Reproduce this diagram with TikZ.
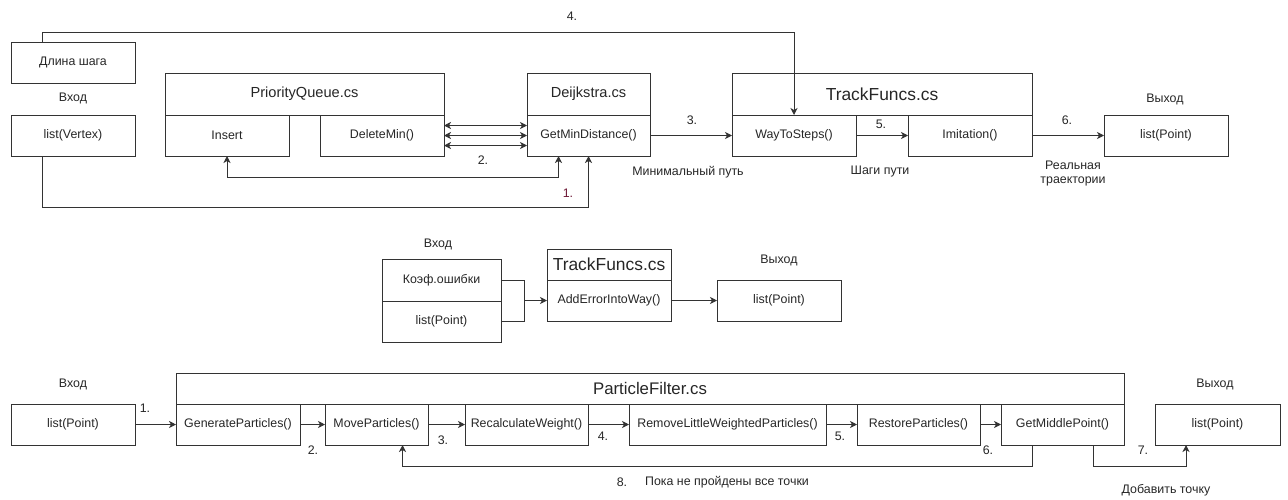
\documentclass[tikz,border=0pt]{standalone}
\usepackage{fontspec}
\setmainfont{Liberation Sans}
\usetikzlibrary{positioning,arrows.meta}

\begin{document}
\begin{tikzpicture}[
    x=1pt, y=-1pt,
    >={Stealth[length=7pt,width=7pt,inset=2pt]},
    cell/.style={draw=black!80, line width=1pt, rectangle, anchor=north west, inner sep=0pt, outer sep=0pt, minimum height=41pt, font=\fontsize{12.4}{14}\selectfont, text=black!85},
    head/.style={cell, minimum height=42pt},
    lbl/.style={font=\fontsize{12.4}{14}\selectfont, text=black!85, inner sep=0pt, align=center},
    link/.style={draw=black!80, line width=1pt}
]
  \useasboundingbox (0,0) rectangle (1288,499);

  % Route building
  \node (steplen) [cell, minimum width=124pt] at (11,42) {Длина шага};
  \node (inA) [lbl] at (73,98) {Вход};
  \node (vertex) [cell, minimum width=124pt] at (11,115) {list(Vertex)};

  \node (pq) [head, minimum width=279pt, font=\fontsize{14.6}{16}\selectfont] at (165,73) {PriorityQueue.cs};
  \node (insert) [cell, minimum width=124pt, below right=0pt of pq.south west] {Insert};
  \node (delmin) [cell, minimum width=124pt, below left=0pt of pq.south east] {DeleteMin()};

  \node (dj) [head, minimum width=123pt, font=\fontsize{14.6}{16}\selectfont] at (527,73) {Deijkstra.cs};
  \node (getmin) [cell, minimum width=123pt, below right=0pt of dj.south west] {GetMinDistance()};

  \node (tf) [head, minimum width=300pt, font=\fontsize{17.4}{20}\selectfont] at (732,73) {TrackFuncs.cs};
  \node (waysteps) [cell, minimum width=124pt, below right=0pt of tf.south west] {WayToSteps()};
  \node (imitation) [cell, minimum width=124pt, below left=0pt of tf.south east] {Imitation()};

  \node (outA) [cell, minimum width=124pt] at (1104,115) {list(Point)};
  \node (outAlbl) [lbl] at (1165,99) {Выход};

  \draw[link, ->] ([xshift=31pt]steplen.north west) -- ++(0,-10) -| (waysteps.north);
  \draw[link, ->] ([xshift=31pt]vertex.south west) -- ++(0,51) -| (getmin.south);
  \draw[link, <->] (insert.south) -- ++(0,21) -| ([xshift=-30pt]getmin.south);
  \foreach \dy in {-10,0,10}
    \draw[link, <->] ([yshift=\dy pt]delmin.east) -- ([yshift=\dy pt]getmin.west);
  \draw[link, ->] (getmin) -- (waysteps);
  \draw[link, ->] (waysteps) -- (imitation);
  \draw[link, ->] (imitation) -- (outA);

  \node (n4) [lbl] at (572,16) {4.};
  \node (n1) [lbl, text={rgb,255:red,110;green,25;blue,55}] at (568,193) {1.};
  \node (n2) [lbl] at (483,160) {2.};
  \node (n3) [lbl] at (692,120) {3.};
  \node (n5) [lbl] at (881,124) {5.};
  \node (n6) [lbl] at (1067,120) {6.};
  \node (minpath) [lbl] at (688,172) {Минимальный путь};
  \node (steps) [lbl] at (880,172) {Шаги пути};
  \node (real) [lbl] at (1073,174) {Реальная\\траектории};

  % Error injection
  \node (inB) [lbl] at (438,244) {Вход};
  \node (koef) [head, minimum width=119pt] at (382,259) {Коэф.ошибки};
  \node (pts) [cell, minimum width=119pt, below right=0pt of koef.south west] {list(Point)};
  \node (tfB) [cell, minimum width=124pt, minimum height=31pt, font=\fontsize{17.4}{20}\selectfont] at (547,249) {TrackFuncs.cs};
  \node (adderr) [cell, minimum width=124pt, below right=0pt of tfB.south west] {AddErrorIntoWay()};
  \node (outB) [cell, minimum width=124pt] at (717,280) {list(Point)};
  \node (outBlbl) [lbl] at (779,260) {Выход};

  \coordinate (merge) at ([xshift=-23pt]adderr.west);
  \draw[link] (koef.east) -| (merge);
  \draw[link] (pts.east) -| (merge);
  \draw[link, ->] (merge) -- (adderr.west);
  \draw[link, ->] (adderr) -- (outB);

  % Particle filter
  \node (inC) [lbl] at (73,384) {Вход};
  \node (ptsC) [cell, minimum width=124pt] at (11,404) {list(Point)};
  \node (pf) [cell, minimum width=948pt, minimum height=31pt, font=\fontsize{16.8}{19}\selectfont] at (176,373) {ParticleFilter.cs};
  \node (gen) [cell, minimum width=124pt, below right=0pt of pf.south west] {GenerateParticles()};
  \node (move) [cell, minimum width=103pt] at (325,404) {MoveParticles()};
  \node (recalc) [cell, minimum width=123pt] at (465,404) {RecalculateWeight()};
  \node (remove) [cell, minimum width=197pt] at (629,404) {RemoveLittleWeightedParticles()};
  \node (restore) [cell, minimum width=123pt] at (857,404) {RestoreParticles()};
  \node (getmid) [cell, minimum width=123pt, below left=0pt of pf.south east] {GetMiddlePoint()};
  \node (outC) [cell, minimum width=125pt] at (1155,404) {list(Point)};
  \node (outClbl) [lbl] at (1215,384) {Выход};

  \draw[link, ->] (ptsC) -- (gen);
  \draw[link, ->] (gen) -- (move);
  \draw[link, ->] (move) -- (recalc);
  \draw[link, ->] (recalc) -- (remove);
  \draw[link, ->] (remove) -- (restore);
  \draw[link, ->] (restore) -- (getmid);
  \draw[link, ->] ([xshift=-30.5pt]getmid.south) -- ++(0,21) -| ([xshift=26pt]move.south);
  \draw[link, ->] ([xshift=30.5pt]getmid.south) -- ++(0,21) -| ([xshift=-31.5pt]outC.south);

  \node (c1) [lbl] at (145,408) {1.};
  \node (c2) [lbl] at (313,450) {2.};
  \node (c3) [lbl] at (443,440) {3.};
  \node (c4) [lbl] at (603,436) {4.};
  \node (c5) [lbl] at (840,436) {5.};
  \node (c6) [lbl] at (988,450) {6.};
  \node (c7) [lbl] at (1143,450) {7.};
  \node (c8) [lbl] at (622,482) {8.};
  \node (loop) [lbl] at (727,482) {Пока не пройдены все точки};
  \node (addpt) [lbl] at (1166,490) {Добавить точку};
\end{tikzpicture}
\end{document}
